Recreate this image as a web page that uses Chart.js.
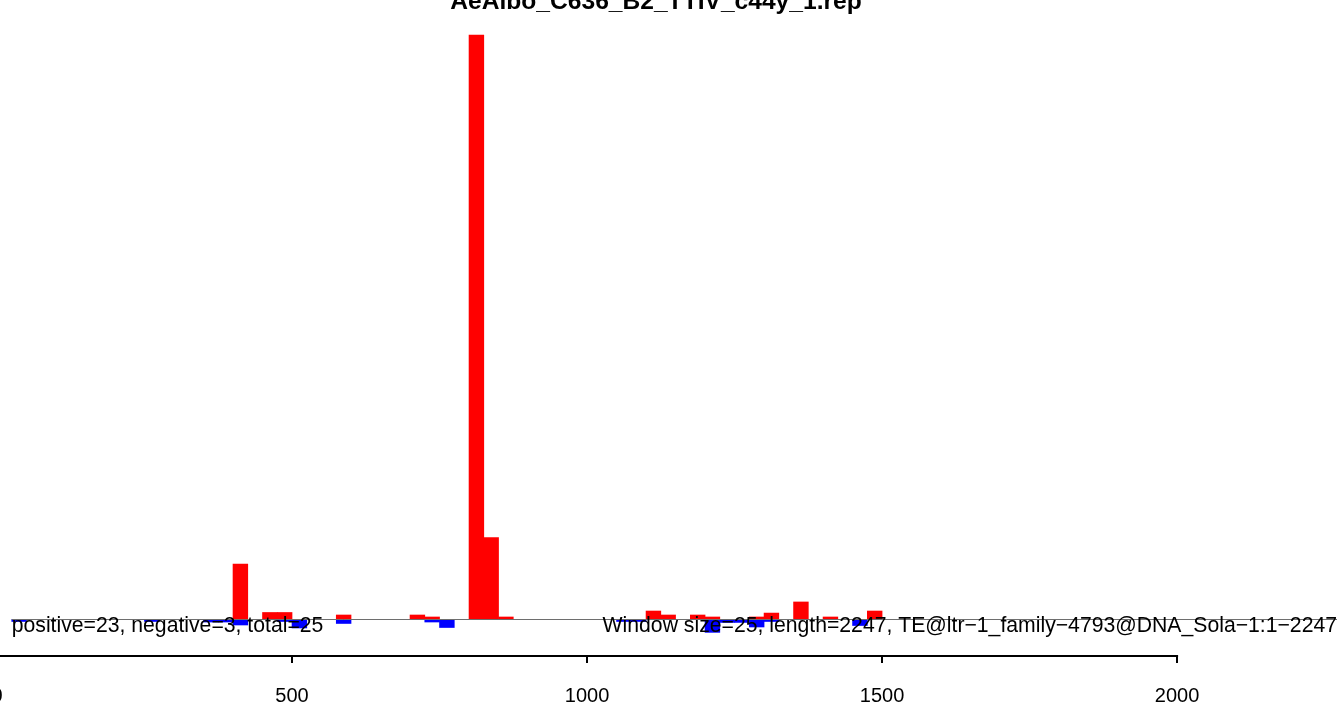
<!DOCTYPE html>
<html>
<head>
<meta charset="utf-8">
<script src="https://cdn.jsdelivr.net/npm/chart.js@4"></script>
<style>
html, body { margin: 0; padding: 0; background: #fff; overflow: hidden; }
#wrap { position: absolute; left: -3px; top: 0; width: 1340px; height: 730px; }
</style>
</head>
<body>
<div id="wrap"><canvas id="myChart" width="1340" height="730"></canvas></div>
<script>
var windowSize = 25;
var seqLength = 2247;
var titleText = 'AeAlbo_C636_B2_TTIV_c44y_1.rep';
var leftNote = 'positive=23, negative=3, total=25';
var rightNote = 'Window size=25, length=2247, TE@ltr\u22121_family\u22124793@DNA_Sola\u22121:1\u22122247';
var xTicks = [0, 500, 1000, 1500, 2000];

// window starts and heights (tallest = 100)
var posStarts = [400, 450, 475, 575, 700, 725, 800, 825, 850, 1100, 1125, 1175, 1200, 1275, 1300, 1350, 1400, 1475];
var posValues = [9.5, 1.2, 1.2, 0.77, 0.77, 0.43, 100, 14, 0.43, 1.45, 0.77, 0.77, 0.43, 0.43, 1.1, 3, 0.43, 1.45];
var negStarts = [25, 250, 350, 375, 400, 475, 500, 575, 725, 750, 1050, 1075, 1200, 1225, 1250, 1275, 1300, 1450];
var negValues = [-0.34, -0.34, -0.43, -0.43, -0.94, -0.34, -1.45, -0.68, -0.43, -1.37, -0.34, -0.34, -2.2, -0.5, -0.5, -1.28, -0.34, -1.03];

var font = "'Liberation Sans', Arial, sans-serif";

function toPoints(starts, values) {
  return starts.map(function (s, i) { return { x: s + windowSize / 2, y: values[i] }; });
}

// title, zero line, axis line and the two notes (R style)
var extras = {
  id: 'extras',
  afterDatasetsDraw: function (chart) {
    var c = chart.ctx, xs = chart.scales.x, ys = chart.scales.y;
    var y0 = Math.round(ys.getPixelForValue(0)) + 0.5;
    c.save();
    c.strokeStyle = '#6e6e6e';
    c.lineWidth = 1;
    c.beginPath();
    c.moveTo(xs.getPixelForValue(windowSize), y0);
    c.lineTo(xs.getPixelForValue(seqLength + windowSize * 2), y0);
    c.stroke();

    var yb = chart.chartArea.bottom;
    c.strokeStyle = '#000';
    c.lineWidth = 2;
    c.beginPath();
    c.moveTo(xs.getPixelForValue(xTicks[0]), yb);
    c.lineTo(xs.getPixelForValue(xTicks[xTicks.length - 1]) + 1, yb);
    c.stroke();

    c.fillStyle = '#000';
    c.font = '21.2px ' + font;
    c.textBaseline = 'alphabetic';
    c.textAlign = 'left';
    c.fillText(leftNote, xs.getPixelForValue(windowSize), y0 + 12);
    c.textAlign = 'right';
    c.fillText(rightNote, chart.chartArea.right, y0 + 12);

    c.font = 'bold 24.6px ' + font;
    c.textAlign = 'center';
    c.fillText(titleText, 659, 9);
    c.restore();
  }
};

var ctx = document.getElementById('myChart').getContext('2d');
var myChart = new Chart(ctx, {
  type: 'bar',
  data: {
    datasets: [{
      label: 'positive',
      data: toPoints(posStarts, posValues),
      backgroundColor: '#ff0000',
      borderWidth: 0,
      grouped: false,
      barPercentage: 1,
      categoryPercentage: 1
    }, {
      label: 'negative',
      data: toPoints(negStarts, negValues),
      backgroundColor: '#0000ff',
      borderWidth: 0,
      grouped: false,
      barPercentage: 1,
      categoryPercentage: 1
    }]
  },
  options: {
    responsive: false,
    animation: false,
    layout: { padding: 0 },
    plugins: { legend: { display: false }, title: { display: false }, tooltip: { enabled: false } },
    scales: {
      x: {
        type: 'linear',
        min: 0,
        max: 2271,
        offset: false,
        afterBuildTicks: function (scale) {
          scale.ticks = xTicks.map(function (v) { return { value: v }; });
        },
        afterFit: function (scale) { scale.paddingLeft = 0; scale.paddingRight = 0; },
        border: { display: false },
        grid: { offset: false, drawOnChartArea: false, drawTicks: true, tickLength: 7, tickColor: '#000', lineWidth: 2 },
        ticks: {
          color: '#000', padding: 21.5, maxRotation: 0, autoSkip: false,
          font: { family: font, size: 20 },
          callback: function (v) { return String(v); }
        }
      },
      y: {
        display: false,
        min: -6.245,
        max: 105.99
      }
    }
  },
  plugins: [extras]
});
</script>
</body>
</html>
